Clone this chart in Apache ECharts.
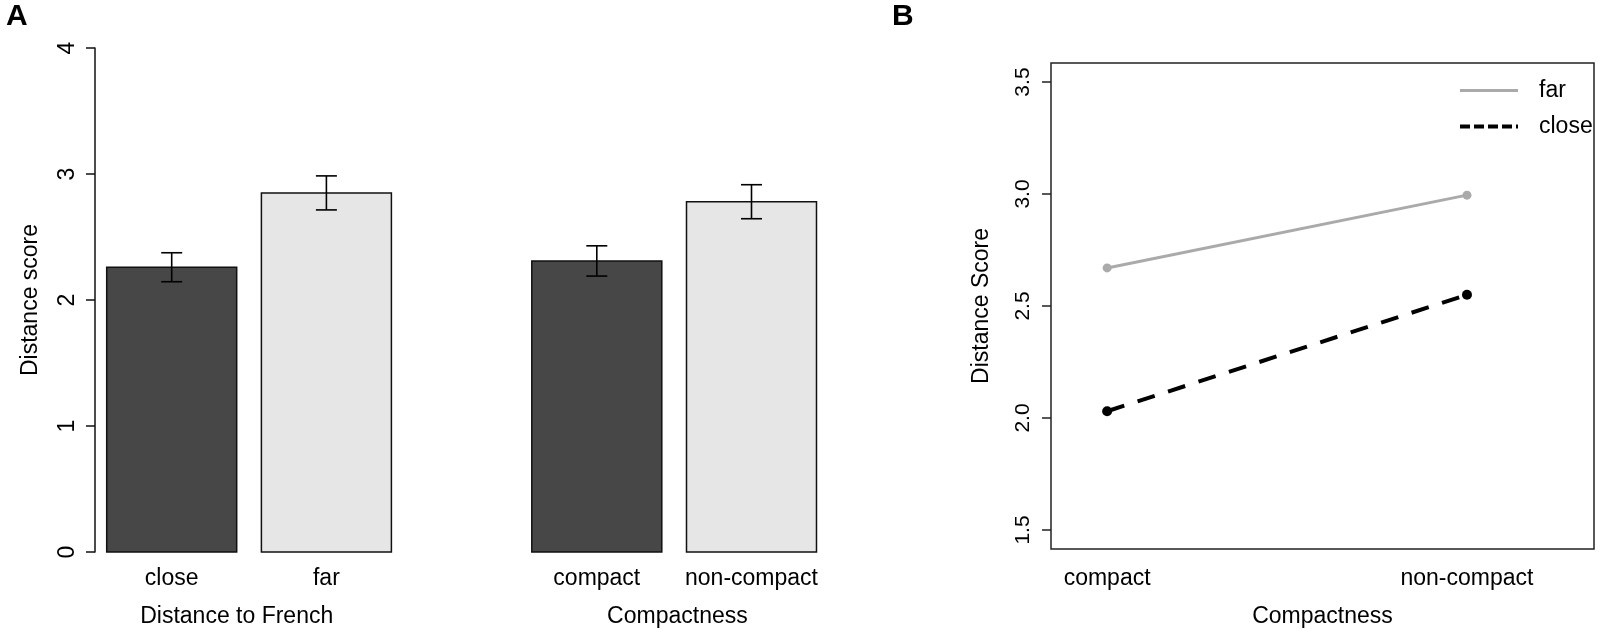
<!DOCTYPE html>
<html>
<head>
<meta charset="utf-8">
<script src="https://cdn.jsdelivr.net/npm/echarts@6/dist/echarts.min.js"></script>
<style>
  html, body { margin: 0; padding: 0; background: #fff; }
  #chart { width: 1600px; height: 633px; }
</style>
</head>
<body>
<div id="chart"></div>
<script>
// panel A: bar means with error bars
var barCats = ['close', 'far', 'compact', 'non-compact']
var barMeans = [2.26, 2.85, 2.31, 2.78]
var barSE = [0.115, 0.135, 0.12, 0.135]
var groupNames = ['Distance to French', 'Compactness']
var yTicksA = [0, 1, 2, 3, 4]

// panel B: interaction plot
var lineCats = ['compact', 'non-compact']
var farScores = [2.67, 2.995]
var closeScores = [2.03, 2.55]
var yTicksB = [1.5, 2.0, 2.5, 3.0, 3.5]

// layout only (x slots on the value axes)
var barPos = [0.59, 1.78, 3.86, 5.05]
var groupPos = [1.09, 4.48]
var linePos = [1, 2]
var barColors = ['#474747', '#e6e6e6', '#474747', '#e6e6e6']

var font = 'Liberation Sans, Arial, sans-serif'
var chart = echarts.init(document.querySelector('#chart'))

function pick(list, names) {
    return function (v) {
        for (var i = 0; i < list.length; i++) {
            if (Math.abs(list[i] - v) < 1e-6) return names[i]
        }
        return ''
    }
}

var option = {
    animation: false,
    textStyle: { fontFamily: font },
    graphic: [
        { type: 'text', left: 6, top: 2, style: { text: 'A', font: 'bold 30px ' + font, fill: '#000' } },
        { type: 'text', left: 892, top: 2, style: { text: 'B', font: 'bold 30px ' + font, fill: '#000' } }
    ],
    grid: [
        { left: 95, top: 48, width: 780, height: 504, outerBoundsMode: 'none' },
        { left: 1051, top: 63, width: 543, height: 486, show: true, borderColor: '#222', borderWidth: 1.5, outerBoundsMode: 'none' }
    ],
    legend: {
        orient: 'vertical',
        left: 1458,
        top: 79,
        padding: 0,
        itemWidth: 58,
        itemHeight: 14,
        itemGap: 13,
        itemStyle: { opacity: 0 },
        textStyle: { fontSize: 23, color: '#000', fontFamily: font, padding: [0, 0, 0, 16] },
        data: [
            { name: 'far', lineStyle: { width: 3, color: '#aaaaaa', type: 'solid' } },
            { name: 'close', lineStyle: { width: 4, color: '#000', type: [10, 4] } }
        ]
    },
    xAxis: [
        {
            gridIndex: 0, type: 'value', min: 0, max: 6, position: 'bottom',
            axisLine: { show: false }, axisTick: { show: false }, splitLine: { show: false },
            axisLabel: { customValues: barPos, formatter: pick(barPos, barCats), fontSize: 23, color: '#000', margin: 15 }
        },
        {
            gridIndex: 0, type: 'value', min: 0, max: 6, position: 'bottom',
            axisLine: { show: false }, axisTick: { show: false }, splitLine: { show: false },
            axisLabel: { customValues: groupPos, formatter: pick(groupPos, groupNames), fontSize: 23, color: '#000', margin: 53 }
        },
        {
            gridIndex: 1, type: 'value', min: 0.844, max: 2.353, position: 'bottom',
            axisLine: { show: false }, axisTick: { show: false }, splitLine: { show: false },
            axisLabel: { customValues: linePos, formatter: pick(linePos, lineCats), fontSize: 23, color: '#000', margin: 18 },
            name: 'Compactness', nameLocation: 'middle', nameGap: 56,
            nameTextStyle: { fontSize: 23, color: '#000' }
        }
    ],
    yAxis: [
        {
            gridIndex: 0, type: 'value', min: 0, max: 4, interval: 1,
            axisLine: { show: true, lineStyle: { color: '#111', width: 1.5 } },
            axisTick: { show: true, length: 9, lineStyle: { color: '#111', width: 1.5 } },
            splitLine: { show: false },
            axisLabel: { rotate: 90, fontSize: 23, color: '#000', margin: 16 },
            name: 'Distance score', nameLocation: 'middle', nameGap: 53,
            nameTextStyle: { fontSize: 23, color: '#000' }
        },
        {
            gridIndex: 1, type: 'value', min: 1.415, max: 3.585,
            axisLine: { show: false },
            axisTick: { show: true, length: 9, customValues: yTicksB, lineStyle: { color: '#222', width: 1.5 } },
            splitLine: { show: false },
            axisLabel: {
                customValues: yTicksB, rotate: 90, fontSize: 21, color: '#000', margin: 17,
                formatter: function (v) { return v.toFixed(1) }
            },
            name: 'Distance Score', nameLocation: 'middle', nameGap: 58,
            nameTextStyle: { fontSize: 23, color: '#000' }
        }
    ],
    series: [
        {
            type: 'custom',
            name: 'bars',
            xAxisIndex: 0, yAxisIndex: 0,
            data: barMeans.map(function (m, i) { return [barPos[i], m] }),
            renderItem: function (params, api) {
                var x = api.value(0)
                var top = api.coord([x - 0.5, api.value(1)])
                var bottom = api.coord([x + 0.5, 0])
                return {
                    type: 'rect',
                    shape: { x: top[0], y: top[1], width: bottom[0] - top[0], height: bottom[1] - top[1] },
                    style: { fill: barColors[params.dataIndex], stroke: '#111', lineWidth: 1.5 }
                }
            }
        },
        {
            type: 'custom',
            name: 'errors',
            xAxisIndex: 0, yAxisIndex: 0,
            z: 3,
            data: barMeans.map(function (m, i) { return [barPos[i], m - barSE[i], m + barSE[i]] }),
            renderItem: function (params, api) {
                var lo = api.coord([api.value(0), api.value(1)])
                var hi = api.coord([api.value(0), api.value(2)])
                var cap = 10.5
                var st = { stroke: '#000', lineWidth: 1.6 }
                return {
                    type: 'group',
                    children: [
                        { type: 'line', shape: { x1: lo[0], y1: lo[1], x2: hi[0], y2: hi[1] }, style: st },
                        { type: 'line', shape: { x1: lo[0] - cap, y1: lo[1], x2: lo[0] + cap, y2: lo[1] }, style: st },
                        { type: 'line', shape: { x1: hi[0] - cap, y1: hi[1], x2: hi[0] + cap, y2: hi[1] }, style: st }
                    ]
                }
            }
        },
        {
            type: 'line',
            name: 'far',
            xAxisIndex: 2, yAxisIndex: 1,
            data: farScores.map(function (v, i) { return [linePos[i], v] }),
            symbol: 'circle',
            symbolSize: 9,
            itemStyle: { color: '#aaaaaa' },
            lineStyle: { color: '#aaaaaa', width: 3 }
        },
        {
            type: 'line',
            name: 'close',
            xAxisIndex: 2, yAxisIndex: 1,
            data: closeScores.map(function (v, i) { return [linePos[i], v] }),
            symbol: 'circle',
            symbolSize: 10,
            itemStyle: { color: '#000' },
            lineStyle: { color: '#000', width: 4, type: [18, 14] }
        }
    ]
}

chart.setOption(option)
</script>
</body>
</html>
